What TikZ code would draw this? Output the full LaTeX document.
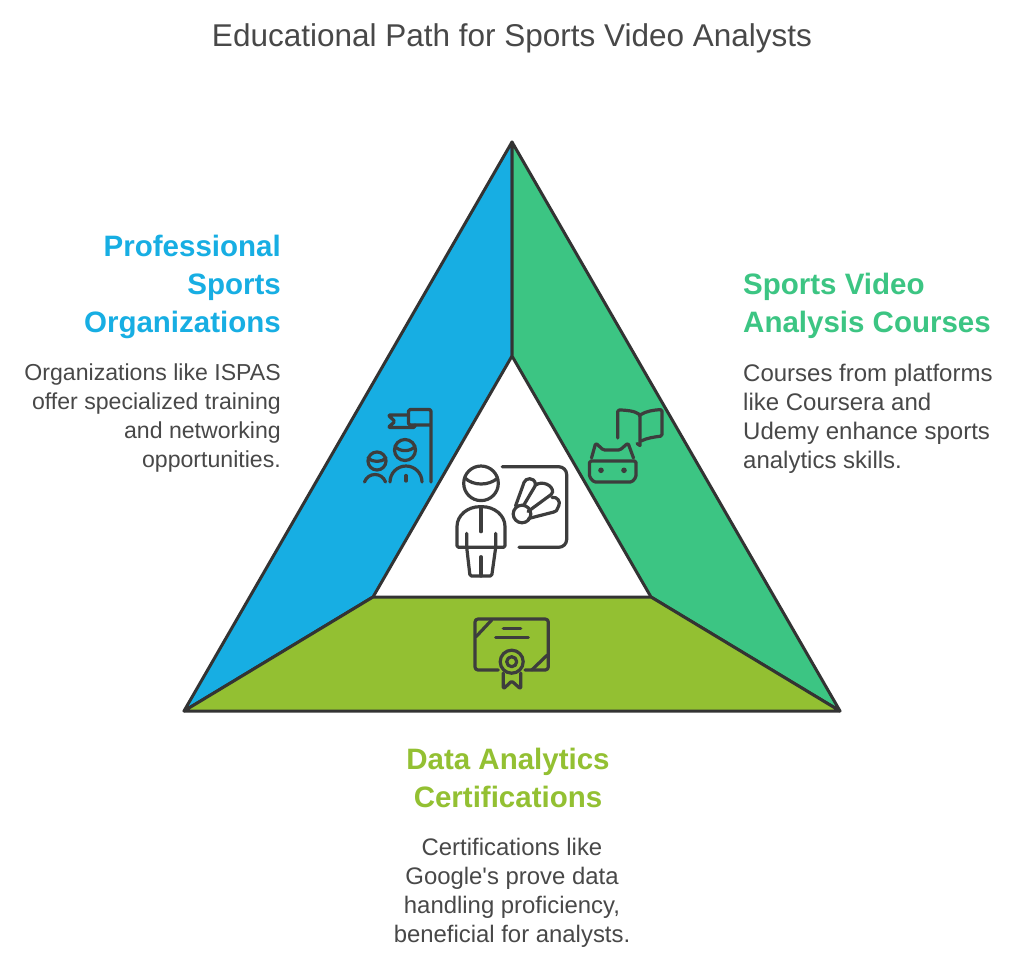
\documentclass[tikz,border=0pt]{standalone}
\usepackage{fontspec}
\setmainfont{Liberation Sans}
\newfontfamily\plainfont{Liberation Sans}
\definecolor{ink}{HTML}{333333}
\definecolor{iconink}{HTML}{3D3D3D}
\definecolor{txt}{HTML}{484848}
\definecolor{cblue}{HTML}{17AEE3}
\definecolor{cgreen}{HTML}{3CC583}
\definecolor{clime}{HTML}{93C032}
\tikzset{
  facet/.style={draw=ink,line width=3pt,line join=round},
  icon/.style={draw=iconink,line width=3.2pt,line join=round,line cap=round,rounded corners=1.5pt},
  headtext/.style={font=\fontsize{29.5}{38}\selectfont\bfseries,inner sep=0pt},
  bodyleft/.style={font=\fontsize{23.1}{29}\selectfont,text=txt,inner sep=0pt},
  bodyright/.style={font=\fontsize{24}{29}\selectfont,text=txt,inner sep=0pt},
  bodybottom/.style={font=\fontsize{23.9}{29}\selectfont,text=txt,inner sep=0pt},
  titletext/.style={font=\fontsize{31.5}{36}\selectfont,text=txt,inner sep=0pt}
}
\begin{document}
\begin{tikzpicture}[x=1pt,y=-1pt]
\useasboundingbox (0,0) rectangle (1024,967);
\fill[white] (0,0) rectangle (1024,967);
\coordinate (A) at (512,142);
\coordinate (L) at (184,711);
\coordinate (R) at (840,711);
\coordinate (a) at (512,356);
\coordinate (l) at (373,597);
\coordinate (r) at (651,597);
\draw[facet,fill=cblue] (A) -- (a) -- (l) -- (L) -- cycle;
\draw[facet,fill=cgreen] (A) -- (a) -- (r) -- (R) -- cycle;
\draw[facet,fill=clime] (l) -- (r) -- (R) -- (L) -- cycle;

\node[titletext,anchor=center] (title) at (512,38) {Educational Path for Sports Video Analysts};

\node[headtext,text=cblue,anchor=north east,align=right] (h1) at (281,235) {Professional\\Sports\\Organizations};
\node[bodyleft,anchor=north east,align=right] (b1) at (281,364) {Organizations like ISPAS\\offer specialized training\\and networking\\opportunities.};

\node[headtext,text=cgreen,anchor=north west,align=left] (h2) at (743,273) {Sports Video\\Analysis Courses};
\node[bodyright,anchor=north west,align=left] (b2) at (743,364) {Courses from platforms\\like Coursera and\\Udemy enhance sports\\analytics skills.};

\node[headtext,text=clime,anchor=north,align=center] (h3) at (508,748) {Data Analytics\\Certifications};
\node[bodybottom,anchor=north,align=center] (b3) at (512,838) {Certifications like\\Google{\plainfont\char"27}s prove data\\handling proficiency,\\beneficial for analysts.};

% flag and people icon
\draw[icon] (431,482) -- (431,409.5) -- (408.5,409.5) -- (408.5,425) -- (431,425);
\draw[icon] (408.5,415) -- (388,415) -- (395,421.5) -- (388,427.5) -- (415,427.5) -- (415,425);
\draw[icon] (405,450) circle[radius=10.5];
\draw[icon] (395,446.5) .. controls (400,452) and (410,452) .. (415,446.5);
\draw[icon] (390,482) arc[start angle=180,end angle=360,radius=16];
\draw[icon] (406,475.5) -- (406,481);
\draw[icon] (377,461) circle[radius=9];
\draw[icon] (368,458) .. controls (372,462.5) and (382,462.5) .. (386,458);
\draw[icon] (364.5,482) .. controls (368,472) and (382,472) .. (385.5,482);

% book and mask icon
\draw[icon] (617.7,438) -- (617.7,410) .. controls (626,410) and (635,411) .. (640,415) -- (640,445.5);
\draw[icon] (640,415) .. controls (646,411) and (654,410) .. (662,409.5) -- (662,436) .. controls (654,437) and (647,438) .. (641,441);
\draw[icon] (637,443.5) -- (640,445.5);
\draw[icon] (589.5,461) -- (589.5,477) -- (594,482) -- (632,482) -- (636,477) -- (636,461) -- cycle;
\draw[icon] (591.5,458) -- (595.7,443) -- (603.3,450) -- (620,450) -- (628,443) -- (633.5,458);
\fill[iconink] (601,470.3) circle[radius=2.8] (624,470.3) circle[radius=2.8];

% central presenter icon
\draw[icon] (481,483.3) circle[radius=17.3];
\draw[icon] (465,478) .. controls (473,486) and (489,486) .. (497.7,478);
\draw[icon] (457,547.3) -- (457,528) .. controls (457,515) and (468,506.7) .. (481,506.7) .. controls (494,506.7) and (505,515) .. (505,528) -- (505,547.3) -- cycle;
\draw[icon] (481,506.7) -- (481,531.7);
\draw[icon] (466.7,533.3) -- (466.7,547.3) -- (470,576) -- (491.7,576) -- (495.7,547.3) -- (495.7,533.3);
\draw[icon] (481,556.7) -- (481,576);
\draw[icon,rounded corners=8pt] (502.3,466.7) -- (566.7,466.7) -- (566.7,547.3) -- (519,547.3);
% shuttlecock
\draw[icon] (522,514) circle[radius=8.8];
\draw[icon] (515.5,506) -- (523.5,484) .. controls (525.5,477.5) and (534,477) .. (535.7,485) -- (523.5,505.5);
\draw[icon] (535.7,485) .. controls (542,480.5) and (553,485) .. (552.5,493.5) -- (528,511.5);
\draw[icon] (552,497.5) .. controls (557,496) and (561,502) .. (558,507) .. controls (557,510) and (556,511) .. (555,511.7) -- (528.5,518.5);

% certificate icon
\draw[icon,rounded corners=3pt] (498.3,670) -- (475,670) -- (475,619) -- (548.3,619) -- (548.3,670) -- (525,670);
\draw[icon] (491.7,620) -- (476,636.7);
\draw[icon] (547.3,655) -- (531.7,670);
\draw[icon] (503.3,628.3) -- (520.7,628.3);
\draw[icon] (495.7,637.7) -- (528.3,637.7);
\draw[icon] (511.7,661.7) circle[radius=11.5];
\draw[icon] (511.7,661.7) circle[radius=5];
\draw[icon] (503.3,673) -- (503.3,689) -- (511.7,681) -- (520.7,689) -- (520.7,673);
\end{tikzpicture}
\end{document}
